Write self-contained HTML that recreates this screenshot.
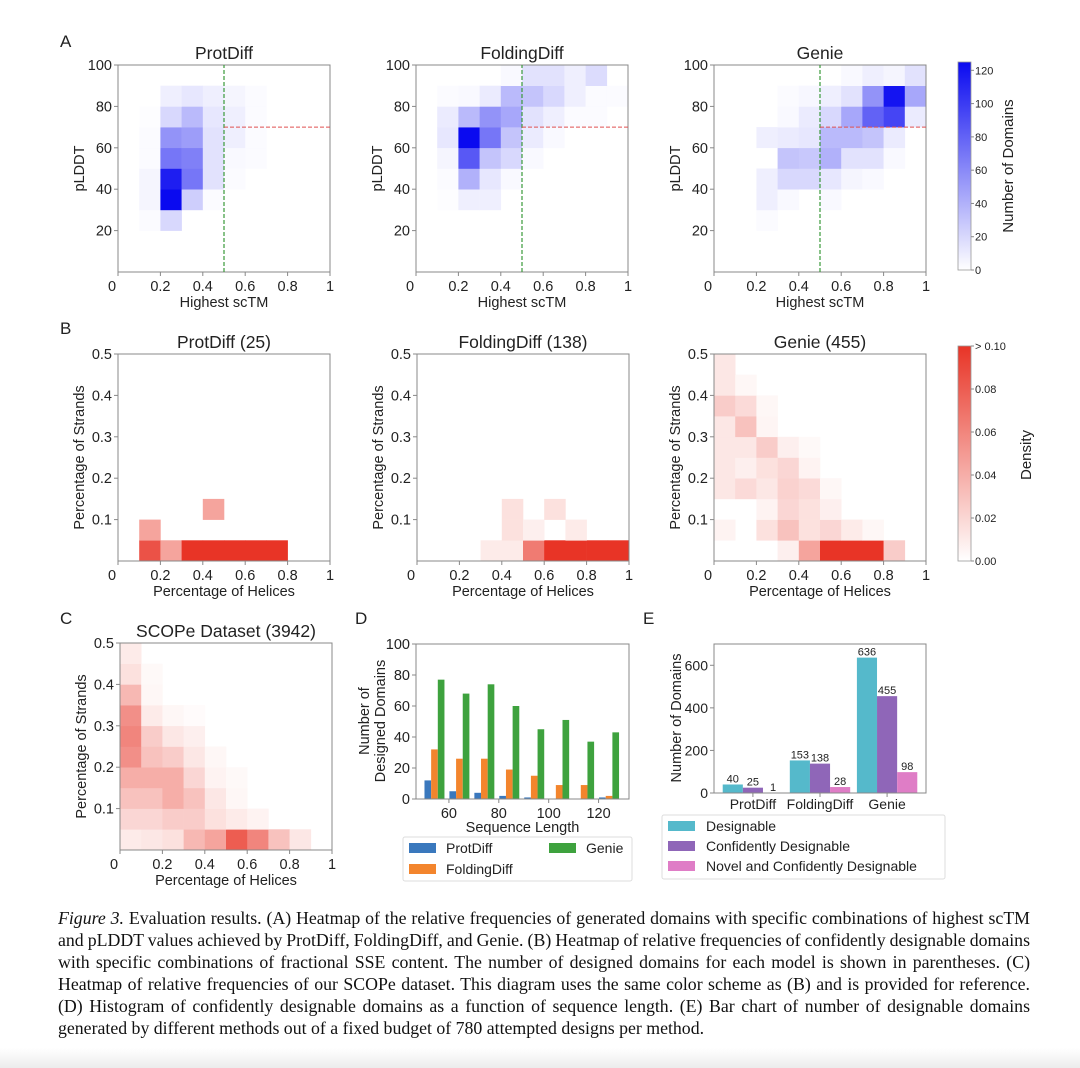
<!DOCTYPE html>
<html><head><meta charset="utf-8">
<style>
body{margin:0;background:#fff;width:1080px;height:1068px;overflow:hidden;position:relative}
svg{position:absolute;left:0;top:0}
svg text{font-family:"Liberation Sans","DejaVu Sans",sans-serif;fill:#222}
.cap{position:absolute;left:58px;width:972px;font-family:"Liberation Serif",serif;font-size:17.8px;word-spacing:-1.6px;color:#111;line-height:22px;text-align:justify;text-align-last:justify;white-space:nowrap;overflow:hidden}
.cap.last{text-align-last:left;word-spacing:0}
#fade{position:absolute;left:0;top:1048px;width:1080px;height:20px;background:linear-gradient(#fff,#ececec)}
</style></head><body>
<svg id="fig" width="1080" height="1068" viewBox="0 0 1080 1068"></svg>
<div class="cap" style="top:907px"><i>Figure 3.</i> Evaluation results. (A) Heatmap of the relative frequencies of generated domains with specific combinations of highest scTM</div>
<div class="cap" style="top:929px">and pLDDT values achieved by ProtDiff, FoldingDiff, and Genie. (B) Heatmap of relative frequencies of confidently designable domains</div>
<div class="cap" style="top:951px">with specific combinations of fractional SSE content. The number of designed domains for each model is shown in parentheses. (C)</div>
<div class="cap" style="top:973px">Heatmap of relative frequencies of our SCOPe dataset. This diagram uses the same color scheme as (B) and is provided for reference.</div>
<div class="cap" style="top:995px">(D) Histogram of confidently designable domains as a function of sequence length. (E) Bar chart of number of designable domains</div>
<div class="cap last" style="top:1017px">generated by different methods out of a fixed budget of 780 attempted designs per method.</div>
<div id="fade"></div>
<script>
// ---------- DATA ----------
const protDiffA = [
[0,0,0,0,0,0,0,0,0,0],[0,0,0,0,0,0,0,0,0,0],
[0,2,20,0,0,0,0,0,0,0],[0,5,125,25,2,0,0,0,0,0],
[0,5,115,70,15,2,0,0,0,0],[0,2,70,65,15,3,2,0,0,0],
[0,2,55,50,15,8,2,0,0,0],[0,1,20,35,12,8,2,0,0,0],
[0,0,8,12,8,5,2,0,0,0],[0,0,0,0,0,0,0,0,0,0]];
const foldingDiffA = [
[0,0,0,0,0,0,0,0,0,0],[0,0,0,0,0,0,0,0,0,0],[0,0,0,0,0,0,0,0,0,0],
[0,1,8,8,0,0,0,0,0,0],[0,2,40,12,3,0,0,0,0,0],
[0,5,85,30,20,3,0,0,0,0],[0,12,125,70,30,10,3,0,0,0],
[0,10,35,55,45,15,8,2,2,0],[0,2,3,10,35,30,20,8,2,2],
[0,0,0,0,3,15,15,8,18,0]];
const genieA = [
[0,0,0,0,0,0,0,0,0,0],[0,0,0,0,0,0,0,0,0,0],
[0,0,2,0,0,0,0,0,0,0],[0,0,8,3,0,3,0,0,0,0],
[0,0,8,20,20,12,5,3,0,0],[0,0,0,30,28,40,15,15,3,0],
[0,0,8,10,12,35,35,30,10,0],[0,0,0,3,10,20,45,80,95,10],
[0,0,0,2,4,8,15,55,120,45],[0,0,0,0,0,0,3,8,5,15]];
const protDiffB = [
[0,0.085,0.045,0.12,0.12,0.12,0.12,0.12,0,0],
[0,0.045,0,0,0,0,0,0,0,0],
[0,0,0,0,0.045,0,0,0,0,0],
[0,0,0,0,0,0,0,0,0,0],[0,0,0,0,0,0,0,0,0,0],[0,0,0,0,0,0,0,0,0,0],
[0,0,0,0,0,0,0,0,0,0],[0,0,0,0,0,0,0,0,0,0],[0,0,0,0,0,0,0,0,0,0],[0,0,0,0,0,0,0,0,0,0]];
const foldingDiffB = [
[0,0,0,0.01,0.01,0.065,0.12,0.12,0.12,0.12],
[0,0,0,0,0.015,0.008,0,0.01,0,0],
[0,0,0,0,0.015,0,0.015,0,0,0],
[0,0,0,0,0,0,0,0,0,0],[0,0,0,0,0,0,0,0,0,0],[0,0,0,0,0,0,0,0,0,0],
[0,0,0,0,0,0,0,0,0,0],[0,0,0,0,0,0,0,0,0,0],[0,0,0,0,0,0,0,0,0,0],[0,0,0,0,0,0,0,0,0,0]];
const genieB = [
[0,0,0,0.008,0.045,0.12,0.12,0.12,0.025,0],
[0.006,0,0.015,0.03,0.015,0.02,0.01,0.004,0,0],
[0,0,0.006,0.02,0.015,0.008,0,0,0,0],
[0.012,0.018,0.012,0.022,0.018,0.004,0,0,0,0],
[0.012,0.008,0.015,0.02,0.006,0,0,0,0,0],
[0.012,0.012,0.025,0.008,0.003,0,0,0,0,0],
[0.012,0.03,0.005,0,0,0,0,0,0,0],
[0.025,0.018,0.004,0,0,0,0,0,0,0],
[0.012,0.004,0,0,0,0,0,0,0,0],
[0.012,0,0,0,0,0,0,0,0,0]];
const scopeC = [
[0.01,0.012,0.015,0.035,0.045,0.08,0.06,0.03,0.012,0],
[0.02,0.02,0.025,0.025,0.015,0.01,0.006,0,0,0],
[0.03,0.03,0.04,0.03,0.012,0.004,0,0,0,0],
[0.04,0.04,0.04,0.02,0.006,0.003,0,0,0,0],
[0.055,0.03,0.025,0.012,0.004,0,0,0,0,0],
[0.06,0.025,0.012,0.008,0,0,0,0,0,0],
[0.055,0.01,0.004,0.002,0,0,0,0,0,0],
[0.035,0.004,0,0,0,0,0,0,0,0],
[0.015,0.003,0,0,0,0,0,0,0,0],
[0.01,0,0,0,0,0,0,0,0,0]];
const lenBins = [50,60,70,80,90,100,110,120];
const dProtDiff = [12,5,4,2,1,0,0,1];
const dFoldingDiff = [32,26,26,19,15,9,9,2];
const dGenie = [77,68,74,60,45,51,37,43];
const dXTicks = [60,80,100,120];
const dYTicks = [0,20,40,60,80,100];
const eMethods = ["ProtDiff","FoldingDiff","Genie"];
const eDesignable = [40,153,636];
const eConfident = [25,138,455];
const eNovel = [1,28,98];
const eYTicks = [0,200,400,600];
const unitTicks = ["0","0.2","0.4","0.6","0.8","1"];
const plddtTicks = [20,40,60,80,100];
const strandTicks = ["0.1","0.2","0.3","0.4","0.5"];

// ---------- HELPERS ----------
const svg=document.getElementById('fig');
const NS='http://www.w3.org/2000/svg';
function mk(tag,attrs,parent){const e=document.createElementNS(NS,tag);for(const k in attrs)e.setAttribute(k,attrs[k]);(parent||svg).appendChild(e);return e;}
function txt(s,x,y,size,anchor,parent,rot){const t=mk('text',{x:x,y:y,'font-size':size,'text-anchor':anchor||'middle'},parent);if(rot)t.setAttribute('transform','rotate(-90 '+x+' '+y+')');t.textContent=s;return t;}
function blue(v){const f=Math.min(v/125,1);return 'rgb('+Math.round(255-245*f)+','+Math.round(255-245*f)+','+Math.round(255-15*f)+')';}
function red(v){const f=Math.min(v/0.1,1);return 'rgb('+Math.round(255-23*f)+','+Math.round(255-203*f)+','+Math.round(255-217*f)+')';}

function heat(name,L,T,W,H,data,colorFn,xmax,ymax,yTickVals,yTickLabels,title,xlabel,ylabel){
  const g=mk('g',{});
  
  
  const sx=v=>L+v/xmax*W, sy=v=>T+H-v/ymax*H;
  const ny=data.length,nx=data[0].length;
  for(let j=0;j<ny;j++)for(let i=0;i<nx;i++){
    const v=data[j][i]; if(v<=0)continue;
    const x0=sx(i*xmax/nx),x1=sx((i+1)*xmax/nx),y0=sy((j+1)*ymax/ny),y1=sy(j*ymax/ny);
    const r=mk('rect',{x:x0,y:y0,width:x1-x0+0.3,height:y1-y0+0.3,fill:colorFn(v)},g);
    
    
  }
  mk('rect',{x:L,y:T,width:W,height:H,fill:'none',stroke:'#888','stroke-width':1},g);
  unitTicks.forEach((s,k)=>{const x=L+k*W/5;mk('line',{x1:x,y1:T+H,x2:x,y2:T+H+4,stroke:'#888'},g);txt(s,k==0?x-6:x,T+H+19,14.5,'middle',g);});
  yTickVals.forEach((v,k)=>{const y=sy(v);mk('line',{x1:L-4,y1:y,x2:L,y2:y,stroke:'#888'},g);txt(yTickLabels[k],L-6,y+5,14.5,'end',g);});
  const tt=txt(title,L+W/2,T-6,17.5,'middle',g);
  
  
  txt(xlabel,L+W/2,T+H+35,14.5,'middle',g);
  txt(ylabel,L-34,T+H/2,14.5,'middle',g,true);
  return {g,sx,sy};
}

[['A',60,47],['B',60,334],['C',60,624],['D',355,624],['E',643,624]].forEach(p=>{
  const t=txt(p[0],p[1],p[2],17,'start');
  
  
});

// ---------- PANEL A ----------
const aPanels=[['protdiff-scTM-heatmap',118,protDiffA,'ProtDiff'],['foldingdiff-scTM-heatmap',416,foldingDiffA,'FoldingDiff'],['genie-scTM-heatmap',714,genieA,'Genie']];
aPanels.forEach(p=>{
  const h=heat(p[0],p[1],65,212,207,p[2],blue,1,100,plddtTicks,plddtTicks.map(String),p[3],'Highest scTM','pLDDT');
  const vl=mk('line',{x1:h.sx(0.5),y1:h.sy(0),x2:h.sx(0.5),y2:h.sy(100),stroke:'#3a9a3a','stroke-width':1.2,'stroke-dasharray':'4,2'},h.g);
  
  
  const hl=mk('line',{x1:h.sx(0.5),y1:h.sy(70),x2:h.sx(1),y2:h.sy(70),stroke:'#e05050','stroke-width':1,'stroke-dasharray':'4,2'},h.g);
  
  
});
(function(){
  const g=mk('g',{});
  
  
  const d=mk('defs',{},g);const lg=mk('linearGradient',{id:'gb',x1:0,y1:1,x2:0,y2:0},d);
  mk('stop',{offset:0,'stop-color':blue(0)},lg);mk('stop',{offset:1,'stop-color':blue(125)},lg);
  const L=958,T=62,B=270,vmax=125;
  mk('rect',{x:L,y:T,width:13,height:B-T,fill:'url(#gb)',stroke:'#999','stroke-width':0.8},g);
  [0,20,40,60,80,100,120].forEach(v=>{const y=B-v/vmax*(B-T);mk('line',{x1:971,y1:y,x2:974,y2:y,stroke:'#888'},g);txt(String(v),975,y+4,11,'start',g);});
  txt('Number of Domains',1013,166,15,'middle',g,true);
})();

// ---------- PANEL B ----------
const bPanels=[['protdiff-sse-heatmap',118,protDiffB,'ProtDiff (25)'],['foldingdiff-sse-heatmap',417,foldingDiffB,'FoldingDiff (138)'],['genie-sse-heatmap',714,genieB,'Genie (455)']];
bPanels.forEach(p=>{heat(p[0],p[1],354,212,207,p[2],red,1,0.5,[0.1,0.2,0.3,0.4,0.5],strandTicks,p[3],'Percentage of Helices','Percentage of Strands');});
(function(){
  const g=mk('g',{});
  
  
  const d=mk('defs',{},g);const lg=mk('linearGradient',{id:'gr',x1:0,y1:1,x2:0,y2:0},d);
  mk('stop',{offset:0,'stop-color':red(0)},lg);mk('stop',{offset:1,'stop-color':red(0.1)},lg);
  const L=958,T=346,B=561;
  mk('rect',{x:L,y:T,width:13,height:B-T,fill:'url(#gr)',stroke:'#999','stroke-width':0.8},g);
  ['0.00','0.02','0.04','0.06','0.08','> 0.10'].forEach((s,k)=>{const y=B-k*(B-T)/5;mk('line',{x1:971,y1:y,x2:974,y2:y,stroke:'#888'},g);txt(s,975,y+4,11,'start',g);});
  txt('Density',1031,455,15,'middle',g,true);
})();

// ---------- PANEL C ----------
heat('scope-sse-heatmap',120,643,212,207,scopeC,red,1,0.5,[0.1,0.2,0.3,0.4,0.5],strandTicks,'SCOPe Dataset (3942)','Percentage of Helices','Percentage of Strands');

// ---------- PANEL D ----------
(function(){
  const g=mk('g',{});
  
  
  const L=416,R=629,T=644,B=799,xmin=46.8,xmax=132.2,ymax=100;
  const sx=v=>L+(v-xmin)/(xmax-xmin)*(R-L), sy=v=>B-v/ymax*(B-T);
  const series=[[dProtDiff,'#3a78bd','protdiff'],[dFoldingDiff,'#f3852d','foldingdiff'],[dGenie,'#3ea23e','genie']];
  const bw=2.67;
  series.forEach((s,si)=>{
    lenBins.forEach((b,k)=>{
      const v=s[0][k]; if(v<=0)return;
      const x0=sx(b+0.2+si*bw);
      const r=mk('rect',{x:x0,y:sy(v),width:sx(b+0.2+(si+1)*bw)-x0,height:sy(0)-sy(v),fill:s[1]},g);
      
      
    });
  });
  mk('rect',{x:L,y:T,width:R-L,height:B-T,fill:'none',stroke:'#888'},g);
  dXTicks.forEach(v=>{const x=sx(v);mk('line',{x1:x,y1:B,x2:x,y2:B+4,stroke:'#888'},g);txt(String(v),x,B+19,14.5,'middle',g);});
  dYTicks.forEach(v=>{const y=sy(v);mk('line',{x1:L-4,y1:y,x2:L,y2:y,stroke:'#888'},g);txt(String(v),L-6,y+5,14.5,'end',g);});
  txt('Sequence Length',(L+R)/2,B+33,14.5,'middle',g);
  txt('Number of',369,721,14.5,'middle',g,true);
  txt('Designed Domains',385,721,14.5,'middle',g,true);
  const lg=mk('g',{},g);
  
  
  mk('rect',{x:403,y:837,width:229,height:44,fill:'#fff',stroke:'#ddd',rx:2},lg);
  [['ProtDiff',409,848,'#3a78bd'],['Genie',549,848,'#3ea23e'],['FoldingDiff',409,869,'#f3852d']].forEach(e=>{
    mk('rect',{x:e[1],y:e[2]-5,width:27,height:10,fill:e[3]},lg);txt(e[0],e[1]+37,e[2]+5,14,'start',lg);
  });
})();

// ---------- PANEL E ----------
(function(){
  const g=mk('g',{});
  
  
  const L=714,R=926,T=644,B=793,ymax=700,xmin=-0.58,xmax=2.58;
  const sx=v=>L+(v-xmin)/(xmax-xmin)*(R-L), sy=v=>B-v/ymax*(B-T);
  const series=[[eDesignable,'#55b9cb','designable'],[eConfident,'#8f66b8','confident'],[eNovel,'#df7dc6','novel']];
  const bw=0.3;
  series.forEach((s,si)=>{
    eMethods.forEach((m,k)=>{
      const v=s[0][k];const x0=sx(k-0.45+si*bw),x1=sx(k-0.45+(si+1)*bw);
      const r=mk('rect',{x:x0,y:sy(v),width:x1-x0,height:sy(0)-sy(v),fill:s[1]},g);
      
      
      txt(String(v),(x0+x1)/2,sy(v)-2,11,'middle',g);
    });
  });
  mk('rect',{x:L,y:T,width:R-L,height:B-T,fill:'none',stroke:'#888'},g);
  eMethods.forEach((m,k)=>{const x=sx(k);mk('line',{x1:x,y1:B,x2:x,y2:B+4,stroke:'#888'},g);txt(m,x,B+16,14,'middle',g);});
  eYTicks.forEach(v=>{const y=sy(v);mk('line',{x1:L-4,y1:y,x2:L,y2:y,stroke:'#888'},g);txt(String(v),L-6,y+5,14,'end',g);});
  txt('Number of Domains',681,718,14.5,'middle',g,true);
  const lg=mk('g',{},g);
  
  
  mk('rect',{x:662,y:815,width:283,height:64,fill:'#fff',stroke:'#ddd',rx:2},lg);
  [['Designable','#55b9cb',826],['Confidently Designable','#8f66b8',846],['Novel and Confidently Designable','#df7dc6',866]].forEach(e=>{
    mk('rect',{x:668,y:e[2]-5,width:27,height:10,fill:e[1]},lg);txt(e[0],706,e[2]+5,14,'start',lg);
  });
})();
</script>
</body></html>
